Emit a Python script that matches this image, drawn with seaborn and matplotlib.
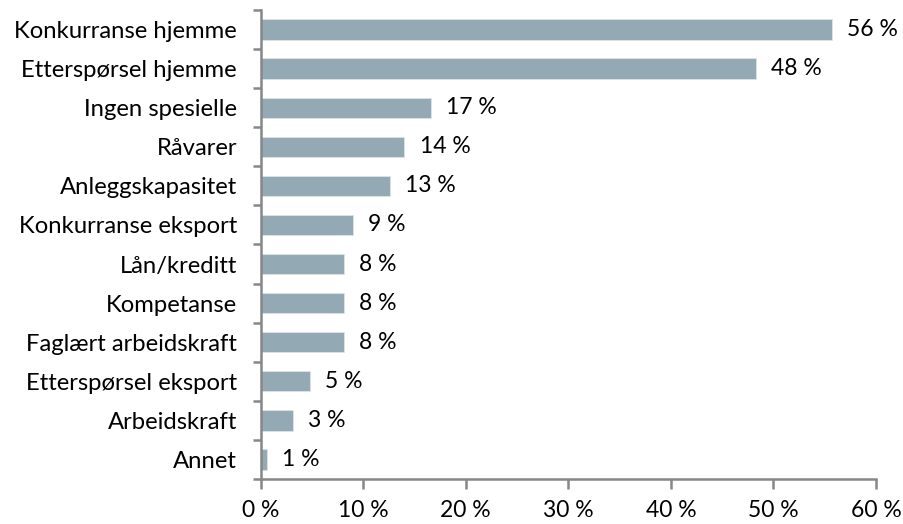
import matplotlib
matplotlib.use("Agg")
import matplotlib.pyplot as plt
import seaborn as sns
import pandas as pd
import numpy as np

categories = [
    "Konkurranse hjemme",
    "Etterspørsel hjemme",
    "Ingen spesielle",
    "Råvarer",
    "Anleggskapasitet",
    "Konkurranse eksport",
    "Lån/kreditt",
    "Kompetanse",
    "Faglært arbeidskraft",
    "Etterspørsel eksport",
    "Arbeidskraft",
    "Annet",
]
shares = [55.7, 48.3, 16.6, 14.0, 12.6, 9.0, 8.1, 8.1, 8.1, 4.8, 3.1, 0.6]
x_ticks = [0, 10, 20, 30, 40, 50, 60]

sns.set_theme(style="white")
plt.rcParams["font.family"] = ["Lato", "DejaVu Sans"]
FS = 16.5
FS_CAT = 17.2

df = pd.DataFrame({"kategori": categories, "andel": shares})

fig = plt.figure(figsize=(9.04, 5.24), dpi=100)
ax = fig.add_axes([0.2884, 0.0859, 0.969 - 0.2884, 0.981 - 0.0859])

sns.barplot(data=df, x="andel", y="kategori", orient="h", color="#93A9B4",
            saturation=1, width=0.52, edgecolor="#dde4e8", linewidth=0.6, ax=ax)

for i, v in enumerate(shares):
    ax.annotate(f"{v:.0f} %", xy=(v, i), xytext=(11, 0), textcoords="offset points",
                va="center", ha="left", fontsize=FS, color="black")

ax.set_xlim(0, 60)
ax.set_ylim(len(categories) - 0.5, -0.5)
ax.set_xticks(x_ticks)
ax.set_xticklabels([f"{t} %" for t in x_ticks], fontsize=FS, color="black")
ax.set_yticks(range(len(categories)))
ax.set_yticklabels(categories, fontsize=FS_CAT, color="black")
ax.set_yticks(np.arange(-0.5, len(categories), 1.0), minor=True)
ax.tick_params(axis="y", which="major", length=0, pad=17)
ax.tick_params(axis="y", which="minor", length=6, width=1.8, color="#878787", left=True)
ax.tick_params(axis="x", which="major", length=7, width=1.8, color="#878787", bottom=True, pad=8)
ax.set_xlabel("")
ax.set_ylabel("")

for side in ["top", "right"]:
    ax.spines[side].set_visible(False)
for side in ["left", "bottom"]:
    ax.spines[side].set_color("#878787")
    ax.spines[side].set_linewidth(1.8)

fig.savefig("out.png", dpi=100)
